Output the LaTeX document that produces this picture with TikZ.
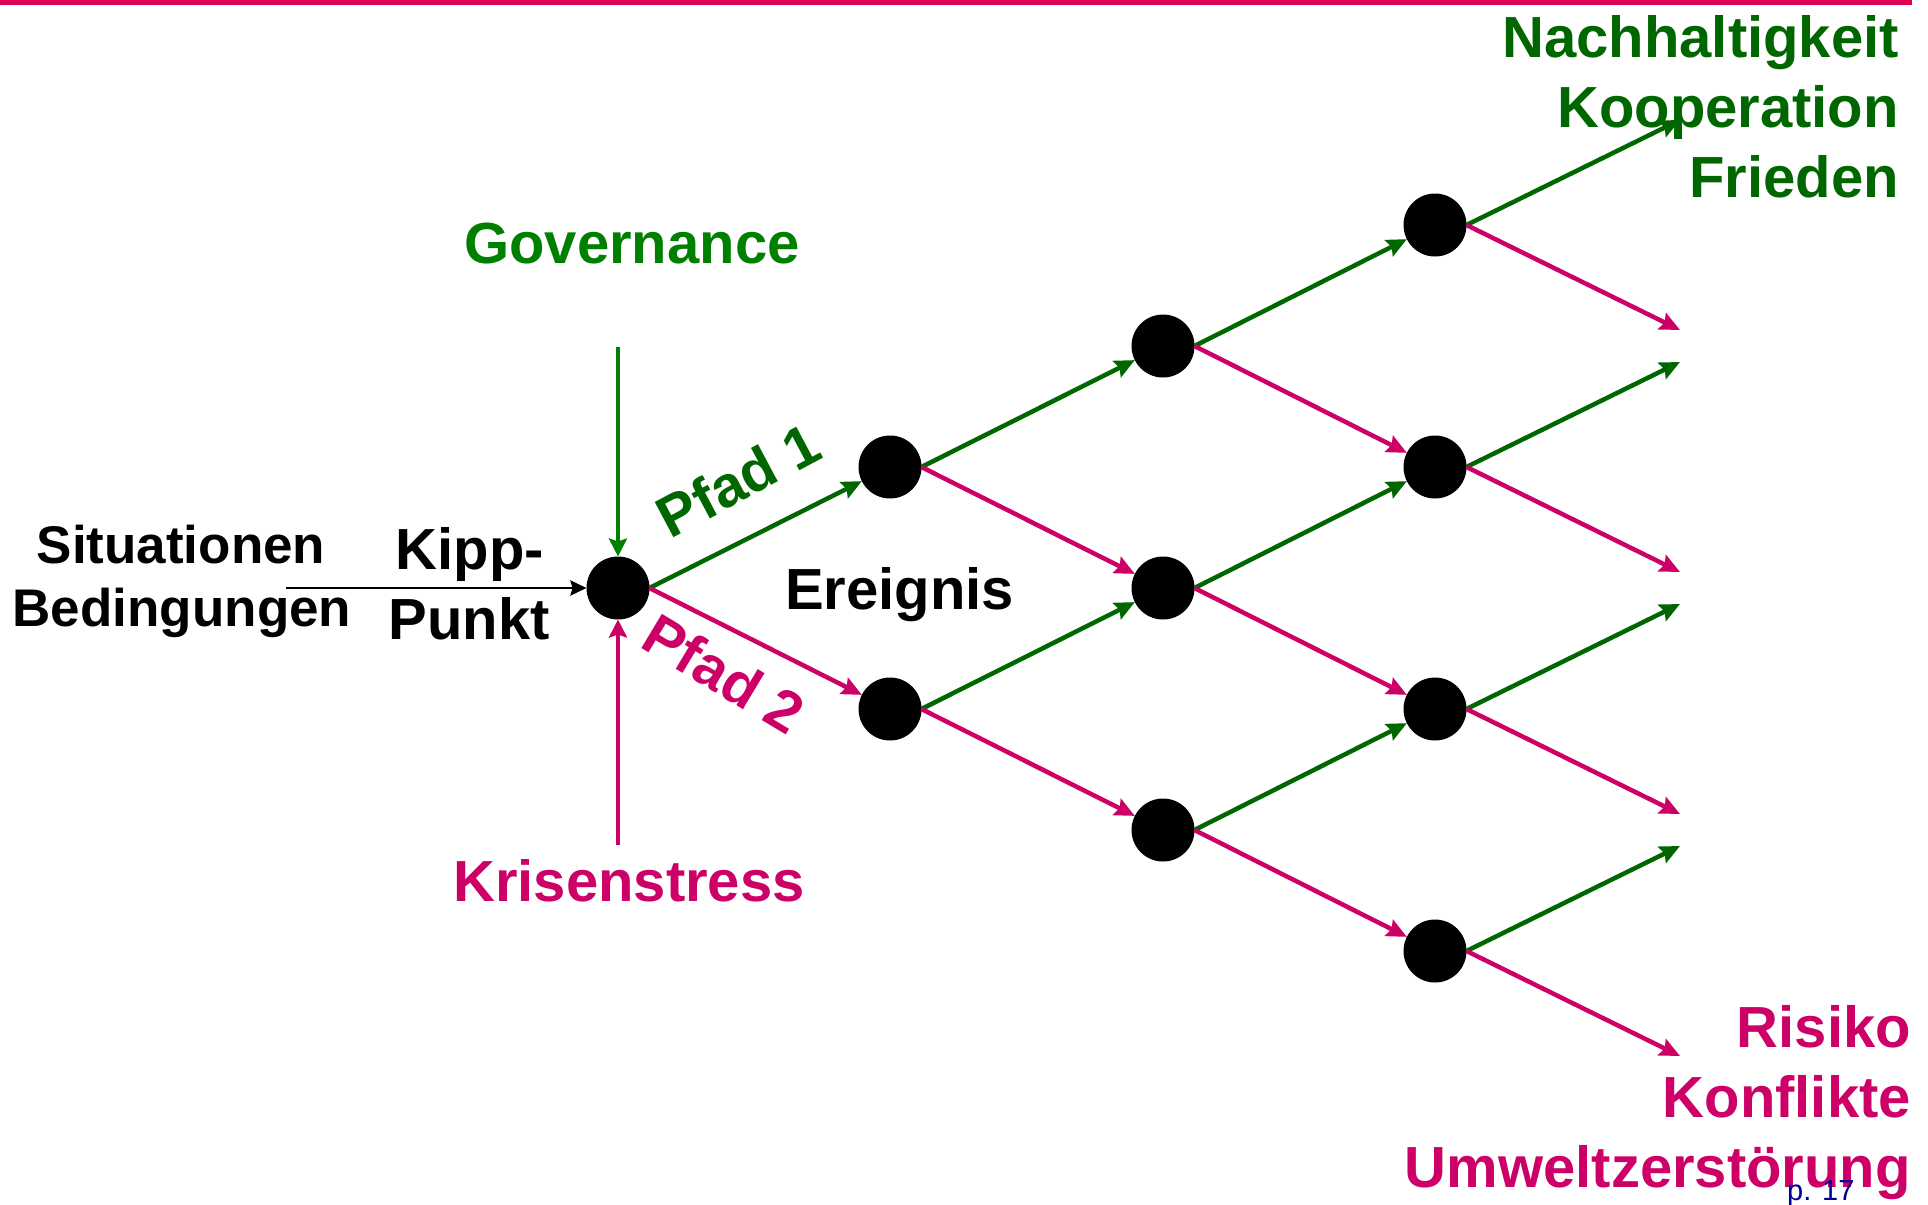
\documentclass[tikz,border=0pt]{standalone}
\usepackage{fontspec}
\setmainfont{Liberation Sans}
\usetikzlibrary{arrows.meta}
\definecolor{dgreen}{RGB}{0,102,0}
\definecolor{lgreen}{RGB}{0,128,0}
\definecolor{pinkc}{RGB}{204,0,102}
\definecolor{topred}{RGB}{222,0,82}
\definecolor{pblue}{RGB}{0,0,153}
\begin{document}
\begin{tikzpicture}[x=1pt,y=-1pt,
  dot/.style={circle,fill=black,minimum size=63pt,inner sep=0pt,outer sep=0pt},
  tipA/.style={-{Stealth[length=20pt,width=18pt,inset=3pt]}},
  gup/.style={draw=dgreen,line width=4.5pt,tipA},
  pdown/.style={draw=pinkc,line width=4.5pt,tipA},
  big/.style={font=\fontsize{58}{70}\selectfont\bfseries,inner sep=0pt},
  mid/.style={font=\fontsize{53}{64}\selectfont\bfseries,inner sep=0pt}]
\useasboundingbox (0,0) rectangle (1928,1205);
\fill[topred] (0,0) rectangle (1912,5);

% nodes
\node[dot] (r)  at (618,588) {};
\node[dot] (a1) at (890,467) {};
\node[dot] (a2) at (890,709) {};
\node[dot] (b1) at (1163,346) {};
\node[dot] (b2) at (1163,588) {};
\node[dot] (b3) at (1163,830) {};
\node[dot] (c1) at (1435,225) {};
\node[dot] (c2) at (1435,467) {};
\node[dot] (c3) at (1435,709) {};
\node[dot] (c4) at (1435,951) {};

\coordinate (e1) at (1680,120);
\coordinate (e2) at (1680,330);
\coordinate (e3) at (1680,362);
\coordinate (e4) at (1680,572);
\coordinate (e5) at (1680,604);
\coordinate (e6) at (1680,814);
\coordinate (e7) at (1680,846);
\coordinate (e8) at (1680,1056);

\coordinate (gtop) at (618,347);
\coordinate (kbot) at (618,845);
\coordinate (sleft) at (286,588);

% connectors
\draw[gup] (r.east) -- (a1);
\draw[pdown] (r.east) -- (a2);
\draw[gup] (a1.east) -- (b1);
\draw[pdown] (a1.east) -- (b2);
\draw[gup] (a2.east) -- (b2);
\draw[pdown] (a2.east) -- (b3);
\draw[gup] (b1.east) -- (c1);
\draw[pdown] (b1.east) -- (c2);
\draw[gup] (b2.east) -- (c2);
\draw[pdown] (b2.east) -- (c3);
\draw[gup] (b3.east) -- (c3);
\draw[pdown] (b3.east) -- (c4);
\draw[gup] (c1.east) -- (e1);
\draw[pdown] (c1.east) -- (e2);
\draw[gup] (c2.east) -- (e3);
\draw[pdown] (c2.east) -- (e4);
\draw[gup] (c3.east) -- (e5);
\draw[pdown] (c3.east) -- (e6);
\draw[gup] (c4.east) -- (e7);
\draw[pdown] (c4.east) -- (e8);

\draw[draw=lgreen,line width=4pt,-{Stealth[length=18pt,width=18pt,inset=3pt]}] (gtop) -- (r.north);
\draw[draw=pinkc,line width=4pt,-{Stealth[length=18pt,width=18pt,inset=3pt]}] (kbot) -- (r.south);
\draw[draw=black,line width=2.8pt,-{Stealth[length=16pt,width=15pt,inset=2pt]}] (sleft) -- (r.west);

% labels
\node[big,text=dgreen,anchor=base east] (t1) at (1899,57) {Nachhaltigkeit};
\node[big,text=dgreen,anchor=base east] (t2) at (1899,127.5) {Kooperation};
\node[big,text=dgreen,anchor=base east] (t3) at (1899,197) {Frieden};

\node[big,text=pinkc,anchor=base east] (u1) at (1911,1047) {Risiko};
\node[big,text=pinkc,anchor=base east] (u2) at (1911,1117) {Konflikte};
\node[big,text=pinkc,anchor=base east] (u3) at (1911,1187) {Umweltzerstörung};

\node[big,text=lgreen,anchor=base] (gov) at (632,263) {Governance};
\node[big,text=pinkc,anchor=base] (kri) at (629,901) {Krisenstress};

\node[mid,anchor=base] (sit) at (181,563) {Situationen};
\node[mid,anchor=base] (bed) at (182,626) {Bedingungen};

\node[big,anchor=base] (kip) at (470,569) {Kipp-};
\node[big,anchor=base] (pun) at (469,639) {Punkt};

\node[big,anchor=base west] (ere) at (785,609) {Ereignis};

\node[big,text=dgreen,rotate=28] (p1) at (738,480) {Pfad 1};
\node[big,text=pinkc,rotate=-31] (p2) at (724,674) {Pfad 2};

\node[font=\fontsize{29}{34}\selectfont,text=pblue,inner sep=0pt,anchor=base west] (pg) at (1787,1200) {p. 17};
\end{tikzpicture}
\end{document}
